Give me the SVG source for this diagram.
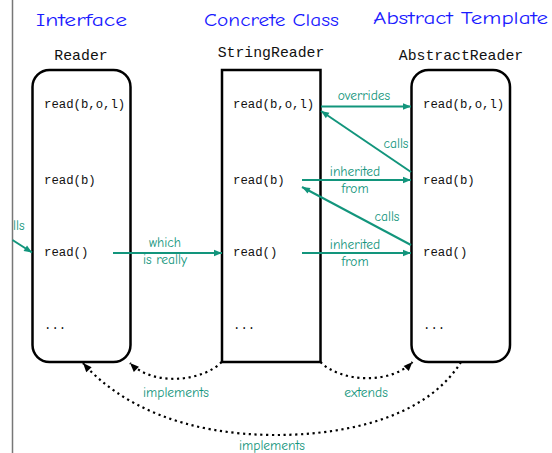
<svg xmlns="http://www.w3.org/2000/svg" width="552" height="453" viewBox="0 0 552 453">
<defs>
<style>
.title{font-family:"Comic Sans MS","Comic Neue","Open Sans","DejaVu Sans",sans-serif;font-size:19px;fill:#1a1aff}
.cls{font-family:"Liberation Mono","DejaVu Sans Mono",monospace;font-size:14.8px;fill:#111;text-anchor:middle}
.m{font-family:"Liberation Mono","DejaVu Sans Mono",monospace;font-size:12.3px;fill:#111}
.lbl{font-family:"Comic Sans MS","Comic Neue","Open Sans","DejaVu Sans",sans-serif;font-size:13.5px;fill:#12957c;text-anchor:middle}
.box{fill:#fff;stroke:#000;stroke-width:2.5}
.g{stroke:#12957c;stroke-width:2;fill:none}
.d{stroke:#000;stroke-width:2.2;fill:none;stroke-dasharray:2.2 3.6}
</style>
<marker id="ga" viewBox="0 0 10 10" refX="10" refY="5" markerWidth="10" markerHeight="8" markerUnits="userSpaceOnUse" orient="auto"><path d="M0 1 L10 5 L0 9 z" fill="#12957c"/></marker>
<marker id="ka" viewBox="0 0 10 10" refX="10" refY="5" markerWidth="11" markerHeight="9" markerUnits="userSpaceOnUse" orient="auto"><path d="M0 1 L10 5 L0 9 z" fill="#000"/></marker>
</defs>
<rect width="552" height="453" fill="#fff"/>
<line x1="12.5" y1="0" x2="12.5" y2="453" stroke="#777" stroke-width="1.5"/>

<g id="titles">
<text class="title" x="36" y="26" textLength="91" lengthAdjust="spacingAndGlyphs">Interface</text>
<text class="title" x="204" y="26" textLength="135" lengthAdjust="spacingAndGlyphs">Concrete Class</text>
<text class="title" x="373" y="24" textLength="175" lengthAdjust="spacingAndGlyphs">Abstract Template</text>
</g>

<g id="reader">
<text class="cls" x="81" y="60">Reader</text>
<rect class="box" x="32.5" y="70" width="98" height="292" rx="17"/>
<text class="m" x="44" y="108">read(b,o,l)</text>
<text class="m" x="44" y="184">read(b)</text>
<text class="m" x="44" y="256">read()</text>
<text class="m" x="44" y="329">...</text>
</g>

<g id="stringreader">
<text class="cls" x="271" y="57">StringReader</text>
<rect class="box" x="222" y="70" width="98.5" height="292"/>
<text class="m" x="233" y="108">read(b,o,l)</text>
<text class="m" x="233" y="184">read(b)</text>
<text class="m" x="233" y="256">read()</text>
<text class="m" x="233" y="329">...</text>
</g>

<g id="abstractreader">
<text class="cls" x="461" y="60">AbstractReader</text>
<rect class="box" x="411.5" y="70" width="98.5" height="292" rx="17"/>
<text class="m" x="423" y="108">read(b,o,l)</text>
<text class="m" x="423" y="184">read(b)</text>
<text class="m" x="423" y="256">read()</text>
<text class="m" x="423" y="329">...</text>
</g>

<g id="connectors">
<line class="g" x1="321" y1="106.5" x2="411" y2="106.5" marker-end="url(#ga)"/>
<text class="lbl" x="364" y="100">overrides</text>
<line class="g" x1="411" y1="172" x2="321" y2="111" marker-end="url(#ga)"/>
<text class="lbl" x="396" y="148">calls</text>
<line class="g" x1="302" y1="180" x2="411" y2="180" marker-end="url(#ga)"/>
<text class="lbl" x="355" y="176">inherited</text>
<text class="lbl" x="355" y="192.5">from</text>
<line class="g" x1="411" y1="245" x2="302" y2="187" marker-end="url(#ga)"/>
<text class="lbl" x="387" y="221">calls</text>
<line class="g" x1="302" y1="253" x2="411" y2="253" marker-end="url(#ga)"/>
<text class="lbl" x="355" y="249">inherited</text>
<text class="lbl" x="355" y="265.5">from</text>
<line class="g" x1="113" y1="253" x2="222" y2="253" marker-end="url(#ga)"/>
<text class="lbl" x="165" y="247">which</text>
<text class="lbl" x="165" y="263.5">is really</text>
<line class="g" x1="12.5" y1="240" x2="32" y2="252.5" marker-end="url(#ga)"/>
<text class="lbl" x="13" y="230" style="text-anchor:start">lls</text>

<path class="d" d="M221.5 362 C205 380, 155 388, 130 363" marker-end="url(#ka)"/>
<text class="lbl" x="176" y="397">implements</text>
<path class="d" d="M320.5 362 C340 382, 390 385, 412.5 362" marker-end="url(#ka)"/>
<text class="lbl" x="366" y="397">extends</text>
<path class="d" d="M461 362 C425 420, 340 435, 276 435 C185 435, 120 405, 83 363" marker-end="url(#ka)"/>
<text class="lbl" x="272" y="450">implements</text>
</g>
</svg>
